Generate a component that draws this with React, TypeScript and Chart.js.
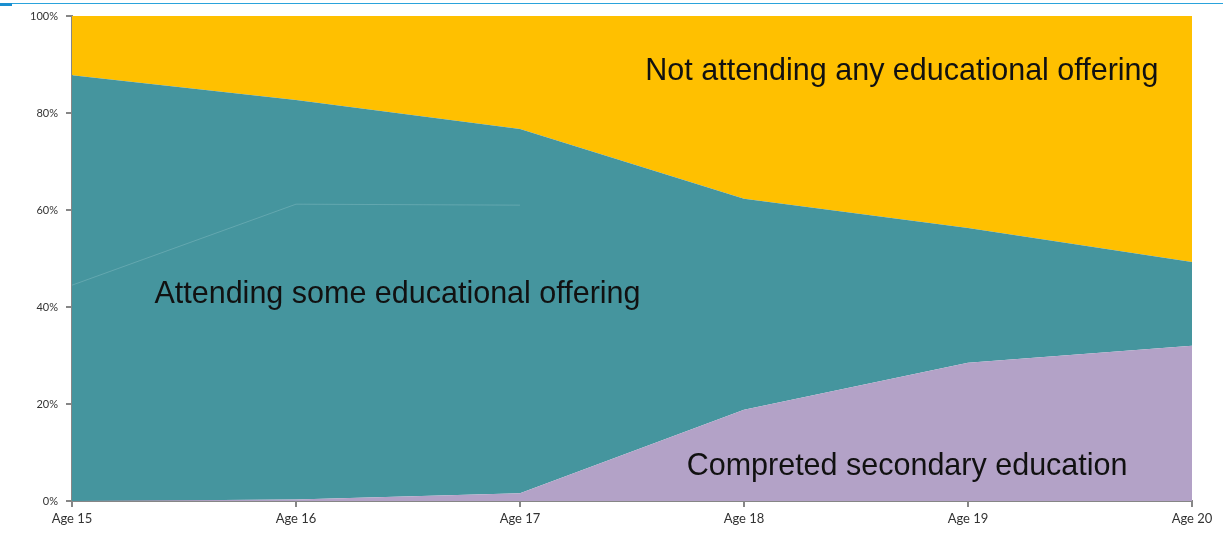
import React, { useEffect, useRef } from "react";
import { Chart, registerables } from "chart.js";

Chart.register(...registerables);

const categories = ["Age 15", "Age 16", "Age 17", "Age 18", "Age 19", "Age 20"];
const completedSecondary = [0, 0.3, 1.6, 18.8, 28.5, 32.0];
const attendingSome = [87.8, 82.4, 75.1, 43.5, 27.8, 17.3];
const notAttending = [12.2, 17.3, 23.3, 37.7, 43.7, 50.7];
const faintBoundary = [44.5, 61.2, 61.0, null, null, null];
const yTicks = [0, 20, 40, 60, 80, 100];

const areaLabels = [
  { text: "Not attending any educational offering", category: 3.705, value: 88.5 },
  { text: "Attending some educational offering", category: 1.453, value: 42.5 },
  { text: "Compreted secondary education", category: 3.728, value: 7 },
];

const labelPlugin = {
  id: "areaLabels",
  afterDatasetsDraw(chart: any) {
    const { ctx, scales } = chart;
    ctx.save();
    ctx.font = "30.5px 'Liberation Sans', Arial, sans-serif";
    ctx.fillStyle = "#111111";
    ctx.textAlign = "center";
    ctx.textBaseline = "middle";
    for (const l of areaLabels) {
      const x = scales.x.getPixelForValue(l.category);
      const y = scales.y.getPixelForValue(l.value);
      ctx.fillText(l.text, x, y);
    }
    ctx.restore();
  },
};

export default function App() {
  const ref = useRef<HTMLCanvasElement | null>(null);
  useEffect(() => {
    if (!ref.current) return;
    const chart = new Chart(ref.current, {
      type: "line",
      data: {
        labels: categories,
        datasets: [
          {
            label: "Completed secondary education",
            data: completedSecondary,
            backgroundColor: "#B3A2C7",
            borderWidth: 0,
            pointRadius: 0,
            fill: "origin",
            stack: "main",
          },
          {
            label: "Attending some educational offering",
            data: attendingSome,
            backgroundColor: "#45959E",
            borderWidth: 0,
            pointRadius: 0,
            fill: "-1",
            stack: "main",
          },
          {
            label: "Not attending any educational offering",
            data: notAttending,
            backgroundColor: "#FFC000",
            borderWidth: 0,
            pointRadius: 0,
            fill: "-1",
            stack: "main",
          },
          {
            label: "boundary",
            data: faintBoundary as any,
            borderColor: "rgba(190,225,228,0.25)",
            borderWidth: 1,
            pointRadius: 0,
            fill: false,
            stack: "line",
            order: -1,
          },
        ],
      },
      options: {
        animation: false,
        responsive: false,
        maintainAspectRatio: false,
        layout: { padding: { top: 16, right: 31, bottom: 0, left: 0 } },
        plugins: { legend: { display: false }, tooltip: { enabled: false } },
        elements: { line: { tension: 0 } },
        scales: {
          x: {
            offset: false,
            grid: { display: true, drawOnChartArea: false, drawTicks: true, tickLength: 6, color: "#868686", lineWidth: 2 },
            border: { display: true, color: "#868686", width: 2 },
            ticks: { color: "#333333", font: { family: "Lato, 'Open Sans', sans-serif", size: 13 }, maxRotation: 0, autoSkip: false, padding: 4 },
            afterFit: (s: any) => { s.height = 34; },
          },
          y: {
            stacked: true,
            min: 0,
            max: 100,
            afterBuildTicks: (s: any) => { s.ticks = yTicks.map((v) => ({ value: v })); },
            grid: { display: true, drawOnChartArea: false, drawTicks: true, tickLength: 6, color: "#868686", lineWidth: 2 },
            border: { display: true, color: "#868686", width: 2 },
            ticks: { color: "#333333", font: { family: "Lato, 'Open Sans', sans-serif", size: 11 }, padding: 8, callback: (v: any) => v + "%" },
            afterFit: (s: any) => { s.width = 72; },
          },
        },
      },
      plugins: [labelPlugin],
    });
    return () => chart.destroy();
  }, []);
  return (
    <div style={{ position: "absolute", left: 0, top: 0, width: 1223, height: 535, background: "#fff" }}>
      <div style={{ position: "absolute", left: 0, top: 3, width: 1223, height: 1, background: "#2aa3dc" }} />
      <div style={{ position: "absolute", left: 0, top: 3, width: 12, height: 3, background: "#1a8fd0" }} />
      <canvas ref={ref} width={1223} height={535} style={{ position: "absolute", left: 0, top: 0 }} />
    </div>
  );
}
